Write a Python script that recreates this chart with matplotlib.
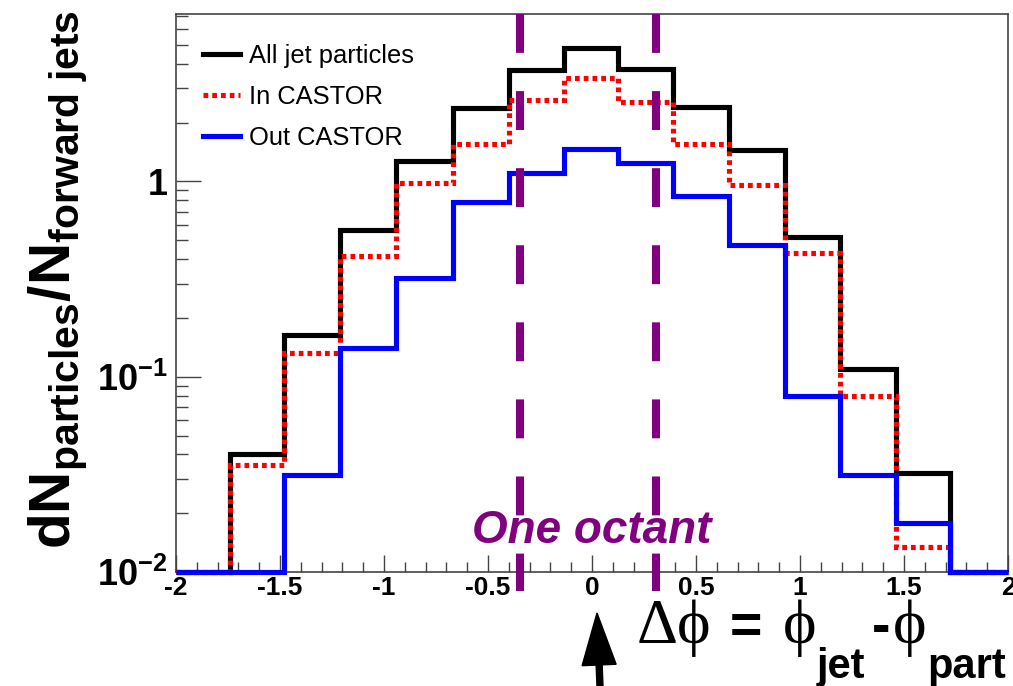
import numpy as np
import matplotlib
matplotlib.use("Agg")
import matplotlib.pyplot as plt
from matplotlib.lines import Line2D
from matplotlib.patches import FancyArrow
from matplotlib.transforms import IdentityTransform
from matplotlib.ticker import MultipleLocator, FuncFormatter, LogLocator, NullFormatter

plt.rcParams["font.family"] = ["Liberation Sans", "DejaVu Sans"]
plt.rcParams["mathtext.fontset"] = "custom"
plt.rcParams["mathtext.rm"] = "Liberation Sans"
plt.rcParams["mathtext.bf"] = "Liberation Sans:bold"
plt.rcParams["mathtext.it"] = "Liberation Sans:italic"
plt.rcParams["axes.unicode_minus"] = False
plt.rcParams["lines.scale_dashes"] = False

# bin edges in delta phi and per-bin values
edges = [-2.0, -1.74, -1.48, -1.21, -0.94, -0.67, -0.40, -0.135, 0.125,
         0.39, 0.66, 0.93, 1.19, 1.46, 1.72, 2.0]
all_jet = [0, 0.0402, 0.164, 0.564, 1.27, 2.38, 3.72, 4.84, 3.76, 2.40,
           1.44, 0.521, 0.109, 0.032, 0]
in_castor = [0, 0.0353, 0.133, 0.415, 0.98, 1.55, 2.61, 3.37, 2.56, 1.55,
             0.96, 0.432, 0.0796, 0.0135, 0]
out_castor = [0, 0, 0.0314, 0.140, 0.320, 0.787, 1.10, 1.46, 1.25, 0.841,
              0.472, 0.080, 0.0314, 0.0178, 0]
octant = [-0.345, 0.31]
labels = ["All jet particles", "In CASTOR", "Out CASTOR"]

W, H = 1013, 686
ymin, ymax = 0.01, 7.2

fig = plt.figure(figsize=(W / 100, H / 100), dpi=100)
ax = fig.add_axes([176 / W, 1 - 572 / H, (1008 - 176) / W, (572 - 14) / H])
ax.set_yscale("log")
ax.set_xlim(-2, 2)
ax.set_ylim(ymin, ymax)

lw = 3.7
ax.stairs(np.clip(all_jet, ymin, None), edges, baseline=None, color="black",
          lw=lw, clip_on=False, zorder=3)
ax.stairs(np.clip(in_castor, ymin, None), edges, baseline=None, color="red",
          lw=lw, linestyle=(0, (3.4, 2.9)), clip_on=False, zorder=4)
ax.stairs(np.clip(out_castor, ymin, None), edges, baseline=None, color="blue",
          lw=lw, clip_on=False, zorder=5)

# octant boundaries
for xv in octant:
    ax.plot([xv, xv], [1.0, -0.034], transform=ax.get_xaxis_transform(),
            color="#800080", lw=5.8, dashes=(28, 27.5), solid_capstyle="butt",
            dash_capstyle="butt", clip_on=False, zorder=6)

fig.text(592 / W, 1 - 543 / H, "One octant", color="#800080", fontsize=33,
         fontweight="bold", fontstyle="italic", ha="center", va="baseline")

# legend
handles = [Line2D([], [], color="black", lw=lw),
           Line2D([], [], color="red", lw=lw, linestyle=(0, (3.4, 2.9))),
           Line2D([], [], color="blue", lw=lw)]
ax.legend(handles, labels, loc="upper left", frameon=False, fontsize=18.4,
          handlelength=1.45, handletextpad=0.35, labelspacing=0.66,
          borderpad=0, borderaxespad=0,
          bbox_to_anchor=((203 - 176) / (1008 - 176), 1 - (44 - 14) / (572 - 14)))

# axes styling
for s in ax.spines.values():
    s.set_color("#444444")
    s.set_linewidth(1.2)
ax.xaxis.set_major_locator(MultipleLocator(0.5))
ax.xaxis.set_minor_locator(MultipleLocator(0.1))
ax.xaxis.set_major_formatter(FuncFormatter(lambda v, p: "%g" % v))
ax.yaxis.set_major_locator(LogLocator(base=10))
ax.yaxis.set_minor_locator(LogLocator(base=10, subs=np.arange(2, 10)))
ax.yaxis.set_minor_formatter(NullFormatter())


def yfmt(v, p):
    e = int(round(np.log10(v)))
    return r"$\mathbf{1}$" if e == 0 else r"$\mathbf{10^{%d}}$" % e


ax.yaxis.set_major_formatter(FuncFormatter(yfmt))
ax.tick_params(axis="x", which="major", direction="in", length=12, width=1,
               color="#444444", labelsize=19, pad=3, top=False)
ax.tick_params(axis="x", which="minor", direction="in", length=7, width=1,
               color="#444444", top=False)
ax.tick_params(axis="y", which="major", direction="in", length=18, width=1,
               color="#444444", labelsize=26, pad=6, right=False)
ax.tick_params(axis="y", which="minor", direction="in", length=8.6, width=1,
               color="#444444", right=False)
for t in ax.get_xticklabels():
    t.set_fontweight("bold")

# y label
fig.text(58 / W, 1 - 280 / H,
         r"$\mathbf{dN_{particles}/N_{forward\ jets}}$",
         rotation=90, ha="center", va="center", fontsize=42)

# x label pieces
serif = ["Liberation Serif", "DejaVu Serif"]
base = 1 - 643 / H
sub = 1 - 678 / H
fig.text(637 / W, base, "\u0394\u03d5", family=serif, fontsize=46,
         ha="left", va="baseline")
fig.text(730 / W, base, "=", fontsize=40, fontweight="bold", ha="left",
         va="baseline")
fig.text(783 / W, base, "\u03d5", family=serif, fontsize=46, ha="left",
         va="baseline")
fig.text(817 / W, sub, "jet", fontsize=30, fontweight="bold", ha="left",
         va="baseline")
fig.text(872 / W, base, "-", fontsize=40, fontweight="bold", ha="left",
         va="baseline")
fig.text(893 / W, base, "\u03d5", family=serif, fontsize=46, ha="left",
         va="baseline")
fig.text(927 / W, sub, "part", fontsize=30, fontweight="bold", ha="left",
         va="baseline")

# arrow marking delta phi = 0
arr = FancyArrow(600, 0, -3, 686 - 613, width=6, head_width=34,
                 head_length=52, length_includes_head=True, color="black",
                 transform=IdentityTransform())
fig.patches.append(arr)

fig.savefig("out.png", dpi=100)
